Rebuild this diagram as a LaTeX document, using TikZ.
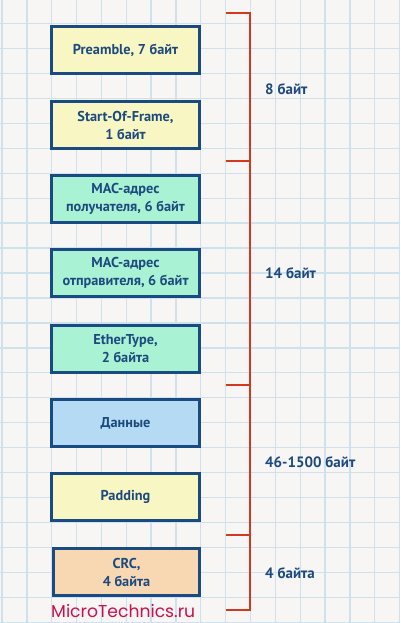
\documentclass[tikz,border=0pt]{standalone}
\usepackage{fontspec}
\setmainfont{PT Sans}
\newfontfamily\markfont{Poppins}
\definecolor{paper}{HTML}{F8F5F5}
\definecolor{gridblue}{HTML}{CFE1EC}
\definecolor{frameblue}{HTML}{1A4A82}
\definecolor{textblue}{HTML}{1D4A7E}
\definecolor{bracketred}{HTML}{D2391F}
\definecolor{markred}{HTML}{C8124C}
\definecolor{fieldyellow}{HTML}{F8F6C2}
\definecolor{fieldgreen}{HTML}{AAF2D4}
\definecolor{fieldblue}{HTML}{B4DAF4}
\definecolor{fieldorange}{HTML}{F8D8B2}

\begin{document}
\begin{tikzpicture}[x=1pt,y=-1pt,
	field/.style={draw=frameblue,line width=3pt,minimum width=148pt,minimum height=47pt,
		align=center,text=textblue,font=\fontsize{14.3}{18}\selectfont\bfseries,inner sep=0pt},
	size/.style={anchor=west,text=textblue,font=\fontsize{15}{18}\selectfont\bfseries,inner sep=0pt},
	brace/.style={draw=bracketred,line width=2pt}]
	\useasboundingbox[fill=paper] (0,0) rectangle (400,623);
	\foreach \i in {0,...,16}
		\draw[gridblue,line width=1.3pt] ({2+24.85*\i},0) -- ({2+24.85*\i},623);
	\foreach \j in {-1,...,24}
		\draw[gridblue,line width=1.3pt] (0,{23.5+24.95*\j}) -- (400,{23.5+24.95*\j});

	\node[field,fill=fieldyellow] (pre) at (125.5,50) {Preamble, 7 байт};
	\node[field,fill=fieldyellow] (sof) at (125.5,125) {Start-Of-Frame,\\1 байт};
	\node[field,fill=fieldgreen] (dst) at (125.5,199) {MAC-адрес\\получателя, 6 байт};
	\node[field,fill=fieldgreen] (src) at (125.5,273) {MAC-адрес\\отправителя, 6 байт};
	\node[field,fill=fieldgreen] (type) at (125.5,349) {EtherType,\\2 байта};
	\node[field,fill=fieldblue] (data) at (125.5,423) {Данные};
	\node[field,fill=fieldyellow] (pad) at (125.5,497) {Padding};
	\node[field,fill=fieldorange,minimum width=146pt] (crc) at (126.5,572) {CRC,\\4 байта};

	% bracket ticks
	\coordinate (t0) at (226,13);  \coordinate (b0) at (250,13);
	\coordinate (t1) at (226,161); \coordinate (b1) at (250,161);
	\coordinate (t2) at (226,385); \coordinate (b2) at (250,385);
	\coordinate (t3) at (226,535); \coordinate (b3) at (250,535);
	\coordinate (t4) at (226,610); \coordinate (b4) at (250,610);
	\draw[brace] (t0) -- (b0) -- (b4) -- (t4);
	\draw[brace] (t1) -- (b1);
	\draw[brace] (t2) -- (b2);
	\draw[brace] (t3) -- (b3);

	\node[size] (hdr) at (265,89) {8 байт};
	\node[size] (mac) at (265,273) {14 байт};
	\node[size] (pay) at (265,462) {46-1500 байт};
	\node[size] (fcs) at (265,573) {4 байта};

	\node[anchor=west,inner sep=0pt,text=markred,font=\markfont\fontsize{17.2}{17}\selectfont] (mark) at (51,611) {MicroTechnics.ru};
\end{tikzpicture}
\end{document}
